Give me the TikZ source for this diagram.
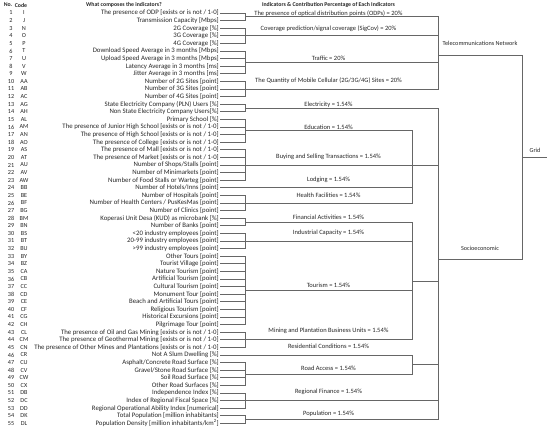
\documentclass[tikz,border=0pt]{standalone}
\usepackage{fontspec}
\setmainfont{Carlito}
\usetikzlibrary{positioning}

\begin{document}
\begin{tikzpicture}[
    x=1pt, y=-1pt,
    indtext/.style={anchor=east, inner sep=1pt, font=\fontsize{6.8}{7}\selectfont, text=black!85},
    numtext/.style={inner sep=0pt, font=\fontsize{6.2}{7}\selectfont, text=black!85},
    grplabel/.style={inner sep=0pt, font=\fontsize{6.5}{7}\selectfont, text=black!85},
    sidelabel/.style={inner sep=0pt, font=\fontsize{6.2}{7}\selectfont, text=black!85},
    head/.style={inner sep=0pt, font=\bfseries\fontsize{5.8}{7}\selectfont, text=black!85},
    link/.style={draw=black!60, line width=0.6pt},
]
\useasboundingbox (0,0) rectangle (550,430);

% Column headers
\node[head] (hno) at (8,5) {No.};
\node[head] (hcode) at (21,5) {Code};
\node[head] (hind) at (124,5) {What composes the indicators?};
\node[head] (hgrp) at (328.5,5) {Indicators \& Contribution Percentage of Each Indicators};

% Indicator rows
\foreach \rno/\rcode/\rtext in {
  1/I/{The presence of ODP [exists or is not / 1-0]},
  2/J/{Transmission Capacity [Mbps]},
  3/N/{2G Coverage [\%]},
  4/O/{3G Coverage [\%]},
  5/P/{4G Coverage [\%]},
  6/T/{Download Speed Average in 3 months [Mbps]},
  7/U/{Upload Speed Average in 3 months [Mbps]},
  8/V/{Latency Average in 3 months [ms]},
  9/W/{Jitter Average in 3 months [ms]},
  10/AA/{Number of 2G Sites [point]},
  11/AB/{Number of 3G Sites [point]},
  12/AC/{Number of 4G Sites [point]},
  13/AG/{State Electricity Company (PLN) Users [\%]},
  14/AH/{Non State Electricity Company Users[\%]},
  15/AL/{Primary School [\%]},
  16/AM/{The presence of Junior High School [exists or is not / 1-0]},
  17/AN/{The presence of High School [exists or is not / 1-0]},
  18/AO/{The presence of College [exists or is not / 1-0]},
  19/AS/{The presence of Mall [exists or is not / 1-0]},
  20/AT/{The presence of Market [exists or is not / 1-0]},
  21/AU/{Number of Shops/Stalls [point]},
  22/AV/{Number of Minimarkets [point]},
  23/AW/{Number of Food Stalls or Warteg [point]},
  24/BB/{Number of Hotels/Inns [point]},
  25/BE/{Number of Hospitals [point]},
  26/BF/{Number of Health Centers / PusKesMas [point]},
  27/BG/{Number of Clinics [point]},
  28/BM/{Koperasi Unit Desa (KUD) as microbank [\%]},
  29/BN/{Number of Banks [point]},
  30/BS/{<20 industry employees [point]},
  31/BT/{20-99 industry employees [point]},
  32/BU/{>99 industry employees [point]},
  33/BY/{Other Tours [point]},
  34/BZ/{Tourist Village [point]},
  35/CA/{Nature Tourism [point]},
  36/CB/{Artificial Tourism [point]},
  37/CC/{Cultural Tourism [point]},
  38/CD/{Monument Tour [point]},
  39/CE/{Beach and Artificial Tours [point]},
  40/CF/{Religious Tourism [point]},
  41/CG/{Historical Excursions [point]},
  42/CH/{Pilgrimage Tour [point]},
  43/CL/{The presence of Oil and Gas Mining [exists or is not / 1-0]},
  44/CM/{The presence of Geothermal Mining [exists or is not / 1-0]},
  45/CN/{The presence of Other Mines and Plantations [exists or is not / 1-0]},
  46/CR/{Not A Slum Dwelling [\%]},
  47/CU/{Asphalt/Concrete Road Surface [\%]},
  48/CV/{Gravel/Stone Road Surface [\%]},
  49/CW/{Soil Road Surface [\%]},
  50/CX/{Other Road Surfaces [\%]},
  51/DB/{Independence Index [\%]},
  52/DC/{Index of Regional Fiscal Space [\%]},
  53/DD/{Regional Operational Ability Index [numerical]},
  54/DK/{Total Population [million inhabitants]},
  55/DL/{Population Density [million inhabitants/km\textsuperscript{2}]}%
}{
  \node[numtext] (no\rno) at (11,{13+(\rno-1)*7.6}) {\rno};
  \node[numtext] (cd\rno) at (24,{13+(\rno-1)*7.6}) {\rcode};
  \node[indtext] (ind\rno) at (220,{13+(\rno-1)*7.6}) {\rtext};
}

% Indicator joints
\coordinate (odp) at (245,16.8);
\coordinate (sigcov) at (245,35.8);
\coordinate (traffic) at (245,62.4);
\coordinate (sites) at (245,89);
\coordinate (elec) at (245,108);
\coordinate (edu) at (245,130.8);
\coordinate (trade) at (245,165);
\coordinate (health) at (245,203);
\coordinate (bank) at (245,222);
\coordinate (industry) at (245,241);
\coordinate (tourism) at (245,290.4);
\coordinate (mining) at (245,339.8);
\coordinate (road) at (245,374);
\coordinate (fiscal) at (245,400.6);
\coordinate (popul) at (245,419.6);

% Sub-group and domain joints
\coordinate (subA) at (412,165);
\coordinate (subB) at (412,280.9);
\coordinate (subC) at (412,364.5);
\coordinate (telecom) at (438,55);
\coordinate (socio) at (438,259);
\coordinate (grid) at (522,157);
\coordinate (gridend) at (547,157);

% Rows into indicators
\foreach \i in {1,2} \draw[link] (ind\i.east) -| (odp);
\foreach \i in {3,4,5} \draw[link] (ind\i.east) -| (sigcov);
\foreach \i in {6,...,9} \draw[link] (ind\i.east) -| (traffic);
\foreach \i in {10,11,12} \draw[link] (ind\i.east) -| (sites);
\foreach \i in {13,14} \draw[link] (ind\i.east) -| (elec);
\foreach \i in {15,...,18} \draw[link] (ind\i.east) -| (edu);
\foreach \i in {19,...,23} \draw[link] (ind\i.east) -| (trade);
\foreach \i in {25,26,27} \draw[link] (ind\i.east) -| (health);
\foreach \i in {28,29} \draw[link] (ind\i.east) -| (bank);
\foreach \i in {30,31,32} \draw[link] (ind\i.east) -| (industry);
\foreach \i in {33,...,42} \draw[link] (ind\i.east) -| (tourism);
\foreach \i in {43,44,45} \draw[link] (ind\i.east) -| (mining);
\foreach \i in {47,...,50} \draw[link] (ind\i.east) -| (road);
\foreach \i in {51,52,53} \draw[link] (ind\i.east) -| (fiscal);
\foreach \i in {54,55} \draw[link] (ind\i.east) -| (popul);

% Telecommunications network
\draw[link] (odp) -| (telecom);
\draw[link] (sigcov) -| (telecom);
\draw[link] (traffic) -| (telecom);
\draw[link] (sites) -| (telecom);

% Socioeconomic sub-groups
\draw[link] (edu) -| (subA);
\draw[link] (ind24.east) -| (subA);
\draw[link] (health) -| (subA);
\draw[link] (bank) -| (subB);
\draw[link] (industry) -| (subB);
\draw[link] (tourism) -| (subB);
\draw[link] (mining) -| (subB);
\draw[link] (ind46.east) -| (subC);
\draw[link] (road) -| (subC);

% Socioeconomic
\draw[link] (elec) -| (socio);
\draw[link] (trade) -| (socio);
\draw[link] (subB) -| (socio);
\draw[link] (subC) -| (socio);
\draw[link] (fiscal) -| (socio);
\draw[link] (popul) -| (socio);

% Grid
\draw[link] (telecom) -| (grid);
\draw[link] (socio) -| (grid);
\draw[link] (grid) -- (gridend);

% Indicator labels
\node[grplabel] (lodp) at (328.5,13.3) {The presence of optical distribution points (ODPs) = 20\%};
\node[grplabel] (lsigcov) at (328.5,28.3) {Coverage prediction/signal coverage (SigCov) = 20\%};
\node[grplabel] (ltraffic) at (328.5,58.3) {Traffic = 20\%};
\node[grplabel] (lsites) at (328.5,81) {The Quantity of Mobile Cellular (2G/3G/4G) Sites = 20\%};
\node[grplabel] (lelec) at (328.5,104.3) {Electricity = 1.54\%};
\node[grplabel] (ledu) at (328.5,127.7) {Education = 1.54\%};
\node[grplabel] (ltrade) at (328.5,157.3) {Buying and Selling Transactions = 1.54\%};
\node[grplabel] (llodge) at (328.5,180) {Lodging = 1.54\%};
\node[grplabel] (lhealth) at (328.5,195) {Health Facilities = 1.54\%};
\node[grplabel] (lbank) at (328.5,217.3) {Financial Activities = 1.54\%};
\node[grplabel] (lindustry) at (328.5,232.7) {Industrial Capacity = 1.54\%};
\node[grplabel] (ltourism) at (328.5,285) {Tourism = 1.54\%};
\node[grplabel] (lmining) at (328.5,330.7) {Mining and Plantation Business Units = 1.54\%};
\node[grplabel] (lresid) at (328.5,346.7) {Residential Conditions = 1.54\%};
\node[grplabel] (lroad) at (328.5,368.3) {Road Access = 1.54\%};
\node[grplabel] (lfiscal) at (328.5,391.7) {Regional Finance = 1.54\%};
\node[grplabel] (lpopul) at (328.5,414) {Population = 1.54\%};

% Domain labels
\node[sidelabel] (ltelecom) at (480,43.5) {Telecommunications Network};
\node[sidelabel] (lsocio) at (480,248.5) {Socioeconomic};
\node[sidelabel] (lgrid) at (535,150) {Grid};

\end{tikzpicture}
\end{document}
